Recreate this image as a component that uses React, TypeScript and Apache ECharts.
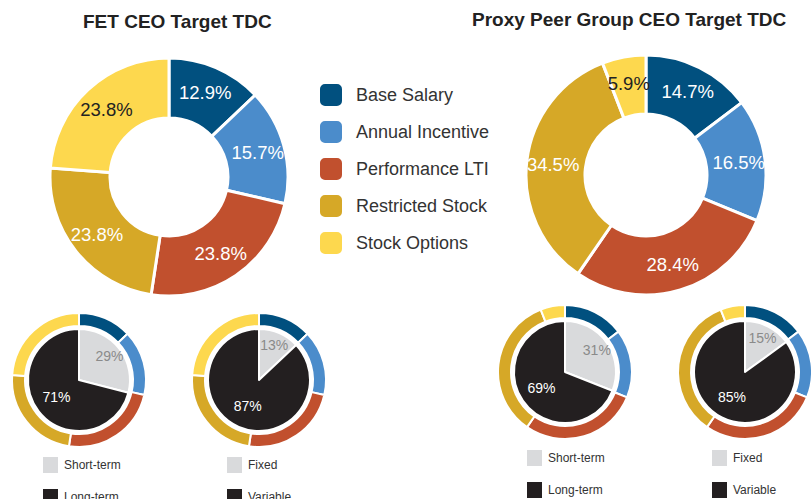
import React, { useEffect, useRef } from "react";
import * as echarts from "echarts";

const categories = ["Base Salary", "Annual Incentive", "Performance LTI", "Restricted Stock", "Stock Options"];
const fetValues = [12.9, 15.7, 23.8, 23.8, 23.8];
const peerValues = [14.7, 16.5, 28.4, 34.5, 5.9];
const termNames = ["Short-term", "Long-term"];
const payNames = ["Fixed", "Variable"];
const fetTerm = [29, 71];
const fetPay = [13, 87];
const peerTerm = [31, 69];
const peerPay = [15, 85];

const catColors = ["#01507f", "#4b8ccb", "#c1502e", "#d6a827", "#fdd84e"];
const catLabelColors = ["#ffffff", "#ffffff", "#ffffff", "#ffffff", "#222222"];
const innerColors = ["#d9dadc", "#231f20"];
const innerLabelColors = ["#8a8a8a", "#ffffff"];
const FONT = "'Liberation Sans', Arial, Helvetica, sans-serif";

function bigDonut(name: string, values: number[], center: number[], radius: number[]) {
  return {
    type: "pie",
    name,
    center,
    radius,
    startAngle: 90,
    clockwise: true,
    avoidLabelOverlap: false,
    label: { show: true, position: "inside", fontFamily: FONT, fontSize: 18.5 },
    labelLine: { show: false },
    emphasis: { disabled: true },
    data: values.map((v, i) => ({
      name: categories[i],
      value: v,
      itemStyle: { color: catColors[i], borderColor: "#ffffff", borderWidth: 3 },
      label: { color: catLabelColors[i], formatter: () => v.toFixed(1) + "%" },
    })),
  };
}

function smallRing(values: number[], center: number[]) {
  return {
    type: "pie",
    center,
    radius: [54, 67],
    startAngle: 90,
    clockwise: true,
    label: { show: false },
    labelLine: { show: false },
    emphasis: { disabled: true },
    data: values.map((v, i) => ({
      name: categories[i],
      value: v,
      itemStyle: { color: catColors[i], borderColor: "#ffffff", borderWidth: 2 },
    })),
  };
}

function innerPie(names: string[], values: number[], center: number[]) {
  const total = values.reduce((a, b) => a + b, 0);
  // push the small first slice's label further out along its mid-angle
  const mid = (values[0] / total) * Math.PI;
  const push = 10;
  return {
    type: "pie",
    center,
    radius: [0, 51],
    startAngle: 90,
    clockwise: true,
    label: { show: true, position: "inside", fontFamily: FONT, fontSize: 14 },
    labelLine: { show: false },
    emphasis: { disabled: true },
    data: values.map((v, i) => ({
      name: names[i],
      value: v,
      itemStyle: { color: innerColors[i], borderColor: "#ffffff", borderWidth: 2 },
      label: {
        color: innerLabelColors[i],
        formatter: () => v + "%",
        offset: i === 0 ? [push * Math.sin(mid), -push * Math.cos(mid)] : [0, 0],
      },
    })),
  };
}

function smallLegend(names: string[], left: number, top: number) {
  return {
    data: names.map((n, i) => ({ name: n, itemStyle: { color: innerColors[i] } })),
    orient: "vertical",
    left,
    top,
    height: 120,
    padding: 0,
    itemWidth: 17,
    itemHeight: 18,
    itemGap: 12,
    icon: "rect",
    selectedMode: false,
    textStyle: { fontFamily: FONT, fontSize: 12, color: "#333333" },
  };
}

export default function App() {
  const ref = useRef<HTMLDivElement>(null);
  useEffect(() => {
    if (!ref.current) return;
    const chart = echarts.init(ref.current, null, { renderer: "svg" });
    chart.setOption({
      animation: false,
      backgroundColor: "#ffffff",
      title: [
        {
          text: "FET CEO Target TDC",
          left: 83,
          top: 12,
          padding: 0,
          textStyle: { fontFamily: FONT, fontSize: 19, fontWeight: "bold", color: "#222222" },
        },
        {
          text: "Proxy Peer Group CEO Target TDC",
          left: 472,
          top: 10,
          padding: 0,
          textStyle: { fontFamily: FONT, fontSize: 19, fontWeight: "bold", color: "#222222" },
        },
      ],
      legend: [
        {
          data: categories.map((n, i) => ({ name: n, itemStyle: { color: catColors[i] } })),
          orient: "vertical",
          left: 318,
          top: 82,
          padding: 0,
          itemWidth: 24,
          itemHeight: 24,
          itemGap: 11,
          icon: "roundRect",
          selectedMode: false,
          textStyle: { fontFamily: FONT, fontSize: 18, color: "#333333", padding: [0, 0, 0, 8] },
        },
        smallLegend(termNames, 41, 455),
        smallLegend(payNames, 225, 455),
        smallLegend(termNames, 525, 448),
        smallLegend(payNames, 710, 448),
      ],
      series: [
        bigDonut("FET", fetValues, [169, 177], [59, 119]),
        bigDonut("Peer", peerValues, [646, 175], [61, 120]),
        smallRing(fetValues, [79, 380]),
        smallRing(fetValues, [259, 380]),
        smallRing(peerValues, [565, 372]),
        smallRing(peerValues, [745, 372]),
        innerPie(termNames, fetTerm, [79, 380]),
        innerPie(payNames, fetPay, [259, 380]),
        innerPie(termNames, peerTerm, [565, 372]),
        innerPie(payNames, peerPay, [745, 372]),
      ],
    });
    return () => chart.dispose();
  }, []);
  return (
    <div
      ref={ref}
      style={{ position: "absolute", left: 0, top: 0, width: 811, height: 499 }}
    />
  );
}
